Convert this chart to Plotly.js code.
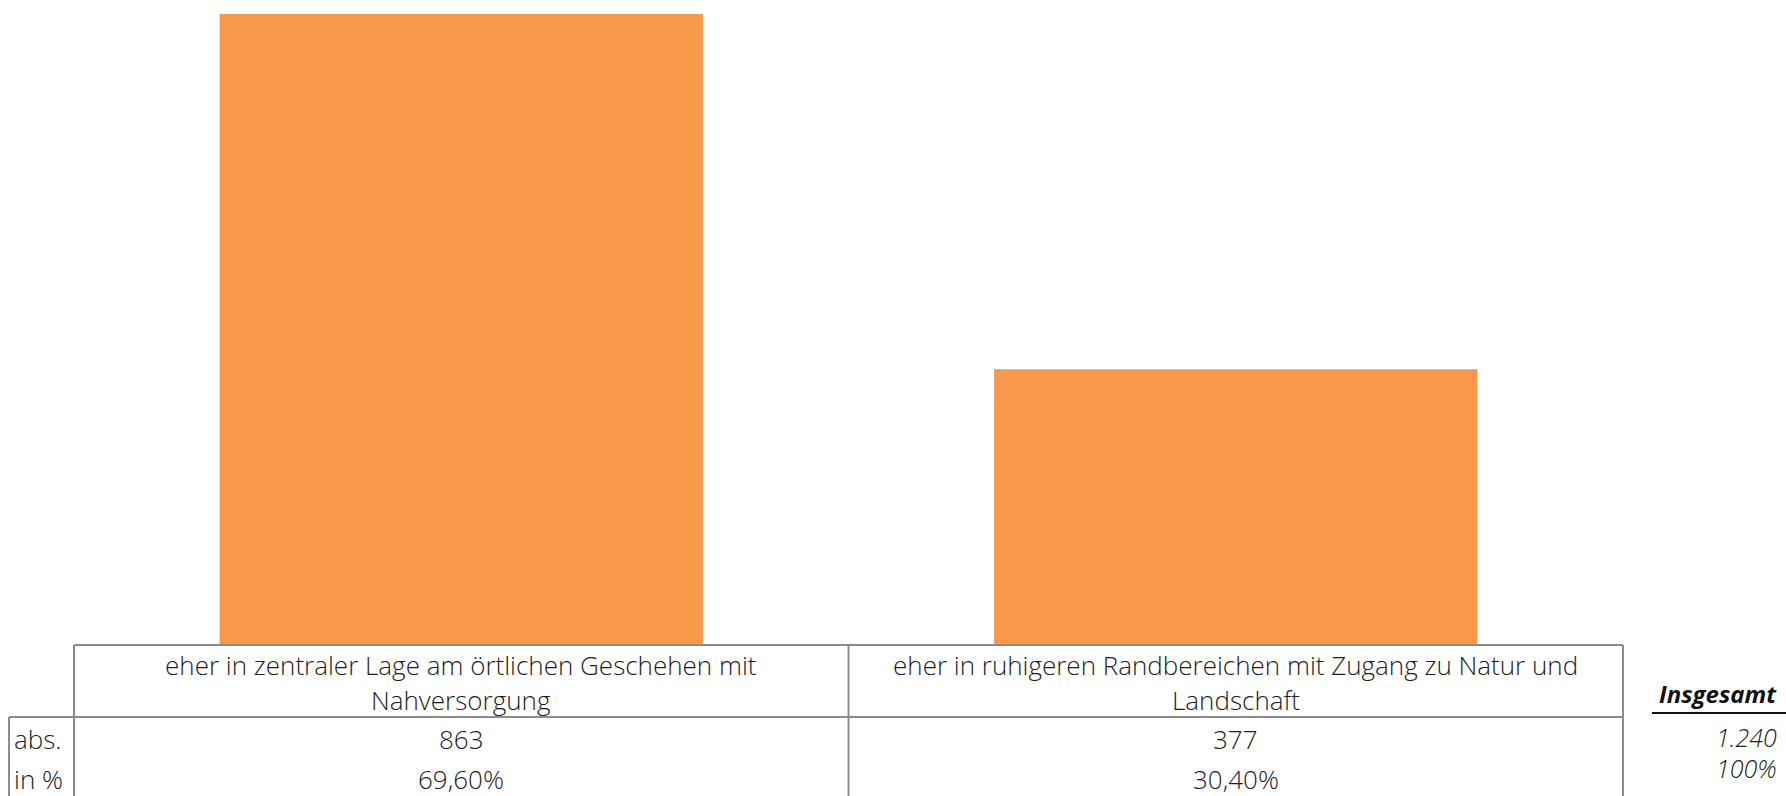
<!DOCTYPE html>
<html>
<head>
<meta charset="utf-8">
<script src="https://cdn.plot.ly/plotly-3.0.1.min.js"></script>
<style>
  html, body { margin: 0; padding: 0; background: #ffffff; }
  #chart { width: 1786px; height: 796px; }
</style>
</head>
<body>
<div id="chart"></div>
<script>
// ---- data ----
const categories = [
  "eher in zentraler Lage am örtlichen Geschehen mit<br>Nahversorgung",
  "eher in ruhigeren Randbereichen mit Zugang zu Natur und<br>Landschaft"
];
const absValues = [863, 377];
const pctValues = [69.60, 30.40];
const rowLabels = ["abs.", "in %"];
const totalLabel = "Insgesamt";
const totalAbs = 1240;
const totalPct = 100;

// ---- layout constants (pixels) ----
const W = 1786, H = 796;
const mL = 74, mR = 163, mT = 0, mB = 151;
const plotW = W - mL - mR, plotH = H - mT - mB;
const px2py = y => (H - mB - y) / plotH;   // pixel y -> paper y
const px2px = x => (x - mL) / plotW;        // pixel x -> paper x

const fontFam = "'Open Sans', 'Noto Sans', sans-serif";
const txtColor = "#1e1e1e";
const lineColor = "#8c8c8c";
const barColor = "#F7984A";
const fs = 26;

const fmtDe = n => n.toLocaleString("de-DE");
const fmtPct = p => p.toFixed(2).replace(".", ",") + "%";

const trace = {
  type: "bar",
  x: categories,
  y: absValues,
  marker: { color: barColor, line: { width: 0 } },
  hoverinfo: "skip"
};

const baseFont = { family: fontFam, size: fs, color: txtColor, weight: 300 };
const annotations = [];
categories.forEach((c, i) => {
  const lines = c.split("<br>");
  const yPix = [665, 700];
  lines.forEach((t, j) => {
    annotations.push({
      xref: "x", yref: "paper", x: i, y: px2py(yPix[j]),
      text: t, showarrow: false, xanchor: "center", yanchor: "middle",
      font: baseFont
    });
  });
  annotations.push({
    xref: "x", yref: "paper", x: i, y: px2py(739),
    text: fmtDe(absValues[i]), showarrow: false, xanchor: "center", yanchor: "middle",
    font: baseFont
  });
  annotations.push({
    xref: "x", yref: "paper", x: i, y: px2py(779),
    text: fmtPct(pctValues[i]), showarrow: false, xanchor: "center", yanchor: "middle",
    font: baseFont
  });
});
[739, 779].forEach((yp, k) => {
  annotations.push({
    xref: "paper", yref: "paper", x: px2px(12), y: px2py(yp),
    text: rowLabels[k], showarrow: false, xanchor: "left", yanchor: "middle",
    font: baseFont
  });
});
annotations.push({
  xref: "paper", yref: "paper", x: px2px(1779), y: px2py(693),
  text: "<i>" + totalLabel + "</i>", showarrow: false, xanchor: "right", yanchor: "middle",
  font: { family: fontFam, size: 24, color: "#111111", weight: 700 }
});
annotations.push({
  xref: "paper", yref: "paper", x: px2px(1779), y: px2py(737),
  text: "<i>" + fmtDe(totalAbs) + "</i>", showarrow: false, xanchor: "right", yanchor: "middle",
  font: { family: fontFam, size: 25, color: txtColor, weight: 300 }
});
annotations.push({
  xref: "paper", yref: "paper", x: px2px(1779), y: px2py(768),
  text: "<i>" + totalPct + "%</i>", showarrow: false, xanchor: "right", yanchor: "middle",
  font: { family: fontFam, size: 25, color: txtColor, weight: 300 }
});

const ln = (x0, y0, x1, y1, color, w) => ({
  type: "line", xref: "paper", yref: "paper",
  x0: px2px(x0), y0: px2py(y0), x1: px2px(x1), y1: px2py(y1),
  line: { color: color || lineColor, width: w || 2 }
});
const shapes = [
  ln(74, 645, 1623, 645),
  ln(9, 717, 1623, 717),
  ln(74, 645, 74, 796),
  ln(848.5, 645, 848.5, 796),
  ln(1623, 645, 1623, 796),
  ln(9, 717, 9, 796),
  ln(1652, 713, 1786, 713, "#111111", 2)
];

const layout = {
  width: W, height: H,
  margin: { l: mL, r: mR, t: mT, b: mB, pad: 0 },
  paper_bgcolor: "#ffffff",
  plot_bgcolor: "#ffffff",
  showlegend: false,
  bargap: 0.376,
  xaxis: {
    range: [-0.5, 1.5], showticklabels: false, showgrid: false,
    zeroline: false, showline: false, ticks: "", fixedrange: true
  },
  yaxis: {
    range: [0, 882], showticklabels: false, showgrid: false,
    zeroline: false, showline: false, ticks: "", fixedrange: true
  },
  annotations: annotations,
  shapes: shapes
};

Plotly.newPlot("chart", [trace], layout, { displayModeBar: false, staticPlot: true });
</script>
</body>
</html>
